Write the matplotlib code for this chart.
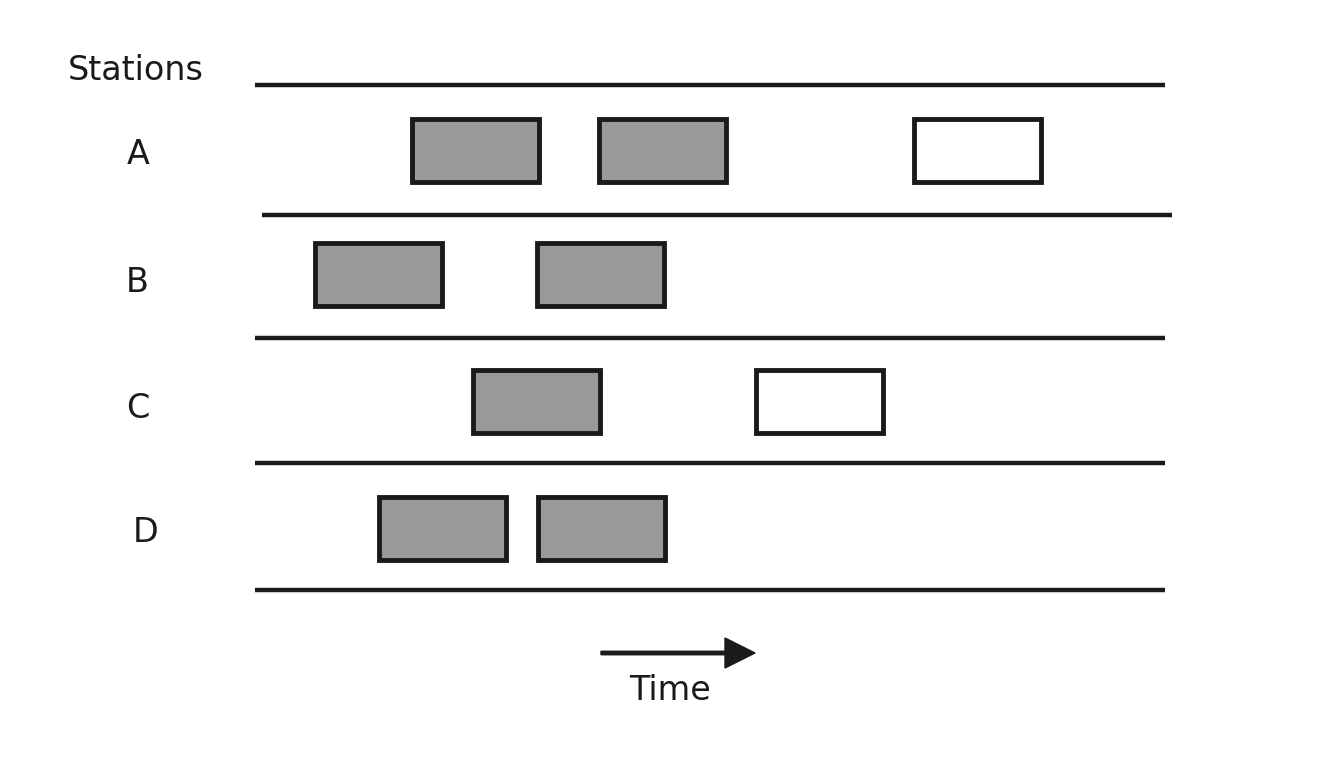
import matplotlib
matplotlib.use("Agg")
import matplotlib.pyplot as plt
from matplotlib.patches import Rectangle, FancyArrow

# station rows (top, bottom of boxes), separator lines
stations = ["A", "B", "C", "D"]
row_top = [119, 243, 370, 497]
box_h = 63
box_w = 127
# (start, filled) per station
boxes = {
    "A": [(412, True), (599, True), (914, False)],
    "B": [(315, True), (537, True)],
    "C": [(473, True), (756, False)],
    "D": [(379, True), (538, True)],
}
label_x = [138, 137, 138, 146]
label_y = [155, 283, 408, 532]
sep_y = [85, 215, 338, 463, 590]
sep_x0 = [255, 262, 255, 255, 255]
sep_x1 = [1165, 1172, 1165, 1165, 1165]

fig = plt.figure(figsize=(13.25, 7.7), dpi=100)
ax = fig.add_axes([0, 0, 1, 1])
ax.set_xlim(0, 1325)
ax.set_ylim(770, 0)
ax.axis("off")

ink = "#1a1a1a"
for y, x0, x1 in zip(sep_y, sep_x0, sep_x1):
    ax.plot([x0, x1], [y, y], color=ink, lw=3.2, solid_capstyle="butt")

for s, top in zip(stations, row_top):
    for x, filled in boxes[s]:
        ax.add_patch(Rectangle((x, top), box_w, box_h, lw=3.5, edgecolor=ink,
                               facecolor="#999999" if filled else "white"))

for s, x, y in zip(stations, label_x, label_y):
    ax.text(x, y, s, fontsize=24, color=ink, ha="center", va="center")
ax.text(68, 70, "Stations", fontsize=24, color=ink, ha="left", va="center")

ax.add_patch(FancyArrow(601, 653, 154, 0, width=3.5, head_width=30,
                        head_length=30, length_includes_head=True,
                        color=ink))
ax.text(670, 690, "Time", fontsize=24, color=ink, ha="center", va="center")

fig.savefig("out.png", dpi=100, facecolor="white")
